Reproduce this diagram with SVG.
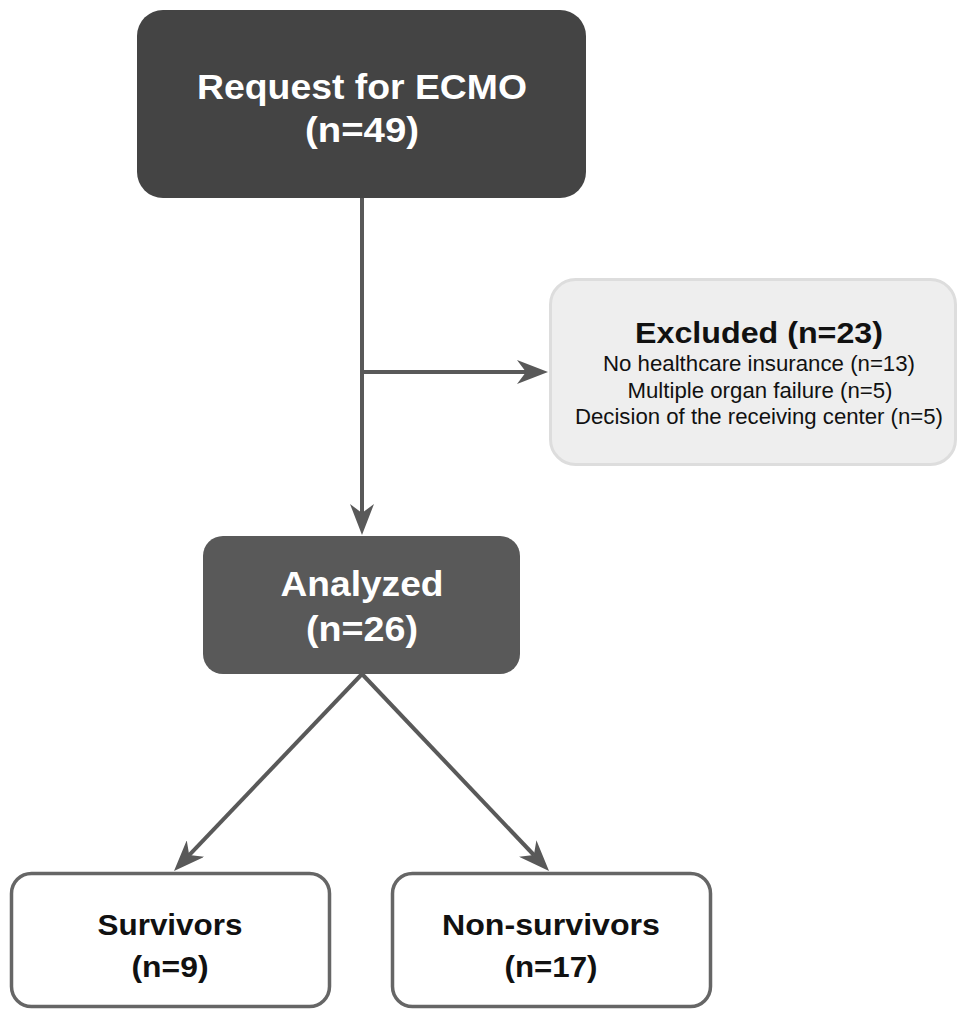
<svg xmlns="http://www.w3.org/2000/svg" width="959" height="1011" viewBox="0 0 959 1011">
  <style>
    .t { font-family: "Liberation Sans", Arial, sans-serif; text-anchor: middle; }
    .b { font-weight: bold; }
    .w { fill: #ffffff; }
    .k { fill: #111111; }
    .conn { stroke: #595959; stroke-width: 4; fill: none; }
  </style>
  <defs>
    <marker id="arr" markerUnits="userSpaceOnUse" markerWidth="31" markerHeight="24" viewBox="0 0 31 24" refX="9" refY="12" orient="auto">
      <path d="M0,0 L31,12 L0,24 L9,12 Z" fill="#595959"/>
    </marker>
  </defs>
  <rect width="959" height="1011" fill="#ffffff"/>

  <g id="connectors">
    <path class="conn" d="M362,198 L362,513" marker-end="url(#arr)"/>
    <path class="conn" d="M362,372 L526,372" marker-end="url(#arr)"/>
    <path class="conn" d="M362,674 L189.2,855.1" marker-end="url(#arr)"/>
    <path class="conn" d="M362,674 L533.9,855" marker-end="url(#arr)"/>
  </g>

  <g id="request">
    <rect x="137" y="10" width="449" height="188" rx="26" fill="#444444"/>
    <text class="t b w" x="362" y="99" font-size="35" textLength="330" lengthAdjust="spacingAndGlyphs">Request for ECMO</text>
    <text class="t b w" x="362" y="142" font-size="35" textLength="114" lengthAdjust="spacingAndGlyphs">(n=49)</text>
  </g>

  <g id="excluded">
    <rect x="550.5" y="279.5" width="405" height="185" rx="25" fill="#eeeeee" stroke="#dddddd" stroke-width="3"/>
    <text class="t b k" x="759" y="343" font-size="29" textLength="248" lengthAdjust="spacingAndGlyphs">Excluded (n=23)</text>
    <text class="t k" x="759" y="371" font-size="22" textLength="312" lengthAdjust="spacingAndGlyphs">No healthcare insurance (n=13)</text>
    <text class="t k" x="760" y="397.5" font-size="22" textLength="265" lengthAdjust="spacingAndGlyphs">Multiple organ failure (n=5)</text>
    <text class="t k" x="759" y="424" font-size="22" textLength="368" lengthAdjust="spacingAndGlyphs">Decision of the receiving center (n=5)</text>
  </g>

  <g id="analyzed">
    <rect x="203" y="536" width="317" height="138" rx="20" fill="#595959"/>
    <text class="t b w" x="362" y="596" font-size="35" textLength="163" lengthAdjust="spacingAndGlyphs">Analyzed</text>
    <text class="t b w" x="362" y="641" font-size="35" textLength="112" lengthAdjust="spacingAndGlyphs">(n=26)</text>
  </g>

  <g id="survivors">
    <rect x="11.5" y="873.5" width="318" height="133" rx="20" fill="#ffffff" stroke="#666666" stroke-width="3.5"/>
    <text class="t b k" x="170" y="935" font-size="29" textLength="145" lengthAdjust="spacingAndGlyphs">Survivors</text>
    <text class="t b k" x="170" y="977" font-size="29" textLength="77" lengthAdjust="spacingAndGlyphs">(n=9)</text>
  </g>

  <g id="nonsurvivors">
    <rect x="392.5" y="873.5" width="318" height="133" rx="20" fill="#ffffff" stroke="#666666" stroke-width="3.5"/>
    <text class="t b k" x="551" y="935" font-size="29" textLength="218" lengthAdjust="spacingAndGlyphs">Non-survivors</text>
    <text class="t b k" x="551" y="977" font-size="29" textLength="93" lengthAdjust="spacingAndGlyphs">(n=17)</text>
  </g>
</svg>
